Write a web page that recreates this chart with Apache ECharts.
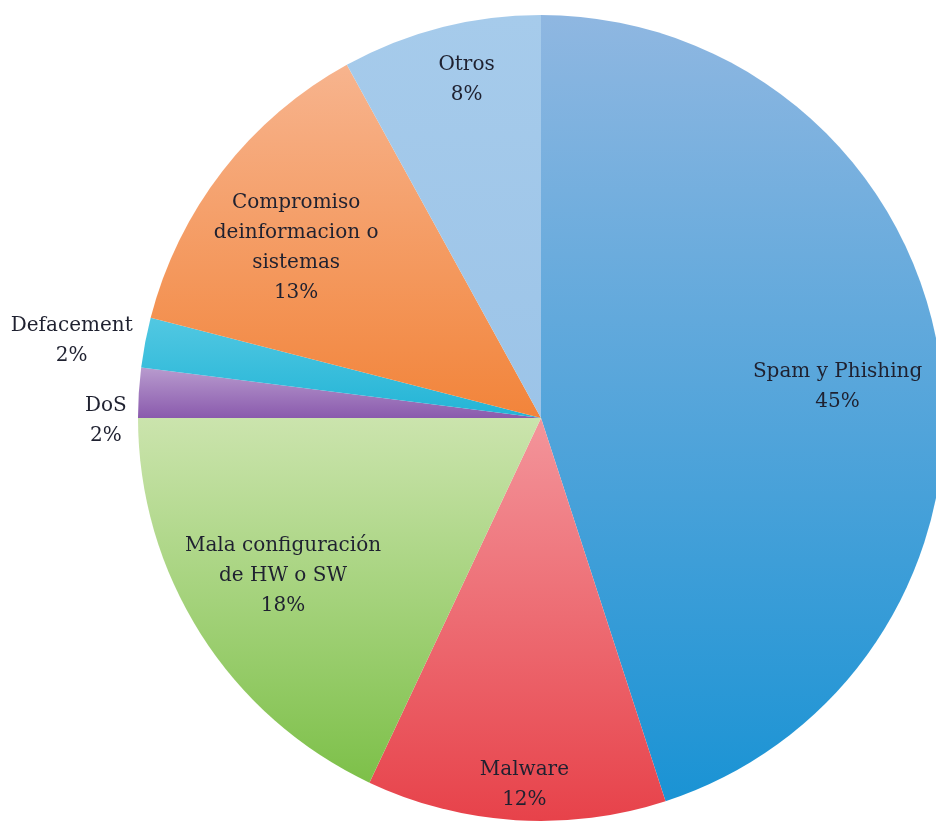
<!DOCTYPE html>
<html>
<head>
<meta charset="utf-8">
<script src="https://cdn.jsdelivr.net/npm/echarts@6/dist/echarts.min.js"></script>
<style>
  html, body { margin: 0; padding: 0; background: #ffffff; }
  #chart { width: 936px; height: 823px; }
</style>
</head>
<body>
<div id="chart"></div>
<script>
// Incident categories, clockwise from 12 o'clock
const categories = [
  'Spam y Phishing',
  'Malware',
  'Mala configuración\nde HW o SW',
  'DoS',
  'Defacement',
  'Compromiso\ndeinformacion o\nsistemas',
  'Otros'
];
const shares = [45, 12, 18, 2, 2, 13, 8];

// Slice fills: lighter tone at the top of each slice, deeper at the bottom
const topColors    = ['#8fb7e1', '#f3959b', '#cbe4ad', '#b89bce', '#52c8e2', '#f7b48e', '#a6cbeb'];
const bottomColors = ['#1a93d4', '#e7424a', '#7dc049', '#8a5aad', '#22b4d6', '#f2843a', '#9cc4e8'];

// Label placement: distance from centre (fraction of radius) and a small angular turn (deg)
const labelRadius = [0.74, 0.91, 0.75, 1.08, 1.18, 0.74, 0.86];
const labelTurn   = [3, -1, 1, -4, -1.5, -3, 2];

const cx = 541, cy = 418, R = 403;

const chart = echarts.init(document.getElementById('chart'), null, { renderer: 'canvas' });

const data = categories.map((name, i) => ({
  name: name,
  value: shares[i],
  itemStyle: {
    color: new echarts.graphic.LinearGradient(0, 0, 0, 1, [
      { offset: 0, color: topColors[i] },
      { offset: 1, color: bottomColors[i] }
    ])
  }
}));

chart.setOption({
  animation: false,
  backgroundColor: '#ffffff',
  series: [{
    type: 'pie',
    center: [cx, cy],
    radius: [0, R],
    startAngle: 90,
    clockwise: true,
    avoidLabelOverlap: false,
    data: data,
    itemStyle: { borderWidth: 0 },
    label: {
      show: true,
      position: 'inside',
      formatter: p => p.name + '\n' + p.value + '%',
      fontFamily: 'DejaVu Serif',
      fontSize: 20,
      lineHeight: 30,
      color: '#1f2130',
      align: 'center'
    },
    labelLine: { show: false },
    emphasis: { disabled: true },
    labelLayout: function (params) {
      const i = params.dataIndex;
      const r = params.labelRect;
      const lx = r.x + r.width / 2;
      const ly = r.y + r.height / 2;
      const theta = Math.atan2(lx - cx, -(ly - cy)) + labelTurn[i] * Math.PI / 180;
      const d = labelRadius[i] * R;
      return {
        x: cx + d * Math.sin(theta),
        y: cy - d * Math.cos(theta),
        align: 'center',
        verticalAlign: 'middle'
      };
    }
  }]
});
</script>
</body>
</html>
